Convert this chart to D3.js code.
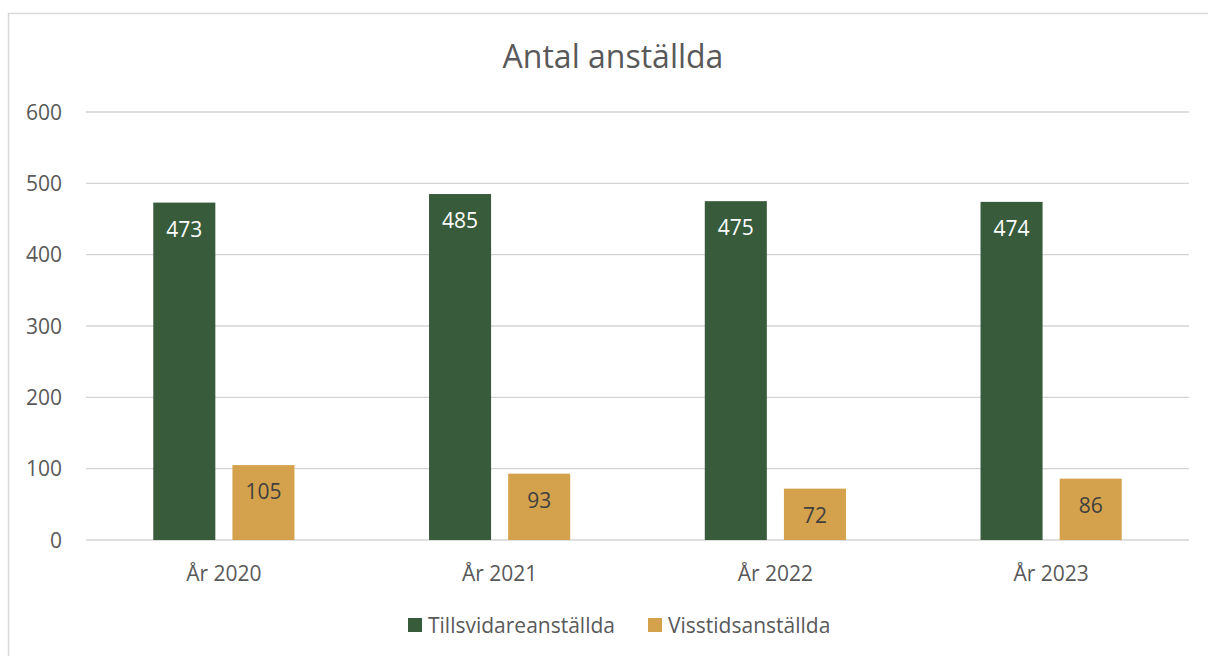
<!DOCTYPE html>
<html>
<head>
<meta charset="utf-8">
<script src="https://cdn.jsdelivr.net/npm/d3@7"></script>
<style>
  body { margin: 0; background: #fff; }
  svg { display: block; font-family: 'Open Sans', sans-serif; }
</style>
</head>
<body>
<svg width="1208" height="656"></svg>
<script>
// Chart data
const years = ['År 2020', 'År 2021', 'År 2022', 'År 2023'];
const seriesNames = ['Tillsvidareanställda', 'Visstidsanställda'];
const permanent = [473, 485, 475, 474];
const temporary = [105, 93, 72, 86];
const yTicks = [0, 100, 200, 300, 400, 500, 600];

const colors = ['#375b3b', '#d4a24c'];
const labelColors = ['#ffffff', '#404040'];

const svg = d3.select('svg');
const plot = {left: 86, right: 1189, top: 112, bottom: 540};

// Outer chart border (runs off the right and bottom edge)
svg.append('rect')
  .attr('x', 8.5).attr('y', 13.5)
  .attr('width', 1300).attr('height', 700)
  .attr('fill', 'none')
  .attr('stroke', '#d9d9d9')
  .attr('stroke-width', 1.5);

// Title
svg.append('text')
  .attr('x', 613).attr('y', 68)
  .attr('text-anchor', 'middle')
  .attr('fill', '#595959')
  .attr('font-size', 32)
  .text('Antal anställda');

const x = d3.scaleBand()
  .domain(years)
  .range([plot.left, plot.right])
  .padding(0);

const y = d3.scaleLinear()
  .domain([0, 600])
  .range([plot.bottom, plot.top]);

// Gridlines
svg.append('g')
  .selectAll('line')
  .data(yTicks)
  .join('line')
    .attr('x1', plot.left).attr('x2', plot.right)
    .attr('y1', (d) => y(d)).attr('y2', (d) => y(d))
    .attr('stroke', '#d4d4d4')
    .attr('stroke-width', 1.4);

// Y axis labels
svg.append('g')
  .selectAll('text')
  .data(yTicks)
  .join('text')
    .attr('x', 62)
    .attr('y', (d) => y(d))
    .attr('dy', '0.36em')
    .attr('text-anchor', 'end')
    .attr('fill', '#595959')
    .attr('font-size', 21)
    .text((d) => d);

// X axis labels
svg.append('g')
  .selectAll('text')
  .data(years)
  .join('text')
    .attr('x', (d) => x(d) + x.bandwidth() / 2)
    .attr('y', 581)
    .attr('text-anchor', 'middle')
    .attr('fill', '#595959')
    .attr('font-size', 21)
    .text((d) => d);

// Bars: two per category, centered in the band
const barW = x.bandwidth() * 0.225;
const gap = x.bandwidth() * 0.062;
const rows = years.map((yr, i) => [permanent[i], temporary[i]].map((v, s) => ({yr, v, s})));
const allBars = rows.flat();

const offset = (s) => x.bandwidth() / 2 - barW - gap / 2 + s * (barW + gap);

svg.append('g')
  .selectAll('rect')
  .data(allBars)
  .join('rect')
    .attr('x', (d) => x(d.yr) + offset(d.s))
    .attr('y', (d) => y(d.v))
    .attr('width', barW)
    .attr('height', (d) => y(0) - y(d.v))
    .attr('fill', (d) => colors[d.s]);

// Value labels inside the bar top
svg.append('g')
  .selectAll('text')
  .data(allBars)
  .join('text')
    .attr('x', (d) => x(d.yr) + offset(d.s) + barW / 2)
    .attr('y', (d) => y(d.v) + 34)
    .attr('text-anchor', 'middle')
    .attr('fill', (d) => labelColors[d.s])
    .attr('font-size', 21)
    .text((d) => d.v);

// Legend
const legendItems = [{x: 408}, {x: 648}];
const legend = svg.append('g')
  .selectAll('g')
  .data(seriesNames)
  .join('g')
    .attr('transform', (d, i) => `translate(${legendItems[i].x}, 618)`);

legend.append('rect')
  .attr('width', 14).attr('height', 14)
  .attr('fill', (d, i) => colors[i]);

legend.append('text')
  .attr('x', 20).attr('y', 7)
  .attr('dy', '0.36em')
  .attr('fill', '#595959')
  .attr('font-size', 21)
  .text((d) => d);
</script>
</body>
</html>
